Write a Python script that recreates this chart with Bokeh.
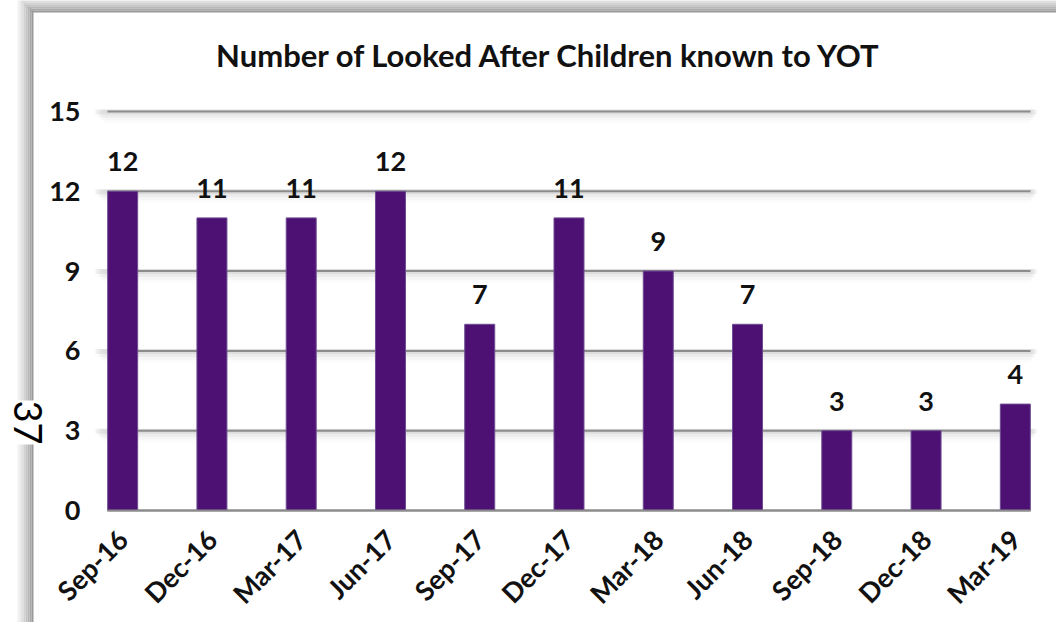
import math
from bokeh.plotting import figure
from bokeh.models import (Range1d, FixedTicker, ColumnDataSource, LabelSet, Label,
                          BoxAnnotation, LinearAxis)
from bokeh.core.properties import value
from bokeh.embed import file_html
from bokeh.resources import INLINE

# ---- data ----
categories = ["Sep-16", "Dec-16", "Mar-17", "Jun-17", "Sep-17", "Dec-17",
              "Mar-18", "Jun-18", "Sep-18", "Dec-18", "Mar-19"]
values = [12, 11, 11, 12, 7, 11, 9, 7, 3, 3, 4]
y_ticks = [0, 3, 6, 9, 12, 15]
title_text = "Number of Looked After Children known to YOT"
page_number = "37"

FONT = "Lato"
BAR_COLOR = "#4C1173"
GRID_COLOR = "#8c8c8c"
TEXT_COLOR = "#111111"

W, H = 1056, 622
# plot-area edges in canvas pixels
PL, PR, PT, PB = 107, 1030, 111, 510
X0, X1 = -0.17, 10.17
Y0, Y1 = 0, 15


def dx(px):
    return X0 + (px - PL) * (X1 - X0) / (PR - PL)


def dy(py):
    return Y0 + (PB - py) * (Y1 - Y0) / (PB - PT)


p = figure(width=W, height=H, output_backend="svg", toolbar_location=None,
           x_range=Range1d(dx(0), dx(W)), y_range=Range1d(dy(H), dy(0)),
           x_axis_location=None, y_axis_location=None,
           min_border=0, min_border_left=0, min_border_right=0,
           min_border_top=0, min_border_bottom=0)
p.outline_line_color = None
p.background_fill_color = "white"
p.border_fill_color = "white"
p.xgrid.visible = False
p.ygrid.visible = False

# chart frame border + shadow (decoration)
shades = ["#f2f2f2", "#e8e8e8", "#dddddd", "#d1d1d1", "#c4c4c4", "#b7b7b7",
          "#a9a9a9", "#9a9a9a"]
for i, c in enumerate(shades):
    p.add_layout(BoxAnnotation(left=dx(17 + 2 * i), right=dx(19 + 2 * i),
                               top=dy(-4 + 2 * i), bottom=dy(H + 20),
                               fill_color=c, fill_alpha=1, line_color=None,
                               level="underlay"))
    p.add_layout(BoxAnnotation(left=dx(17 + 2 * i), right=dx(W + 20),
                               top=dy(-4 + 2 * i), bottom=dy(-2 + 2 * i),
                               fill_color=c, fill_alpha=1, line_color=None,
                               level="underlay"))

# gridline soft shadows
for t in y_ticks[1:]:
    py = PB - (PB - PT) * t / 15
    for k, a in enumerate([0.06, 0.04, 0.025, 0.012]):
        p.add_layout(BoxAnnotation(left=dx(PL - 12 + 3 * k), right=dx(PR + 6 - 2 * k),
                                   top=dy(py - 2), bottom=dy(py + 3 + 3 * k),
                                   fill_color="black", fill_alpha=a, line_color=None,
                                   level="underlay"))

# gridlines (at the y tick values, across the plot area)
p.segment(x0=[X0] * len(y_ticks), x1=[X1] * len(y_ticks), y0=y_ticks, y1=y_ticks,
          line_color=GRID_COLOR, line_width=2)

idx = list(range(len(categories)))
src = ColumnDataSource(dict(x=idx, top=values, label=[str(v) for v in values]))
p.vbar(x="x", top="top", width=0.336, bottom=0, source=src,
       fill_color=BAR_COLOR, line_color="#6d4b92", line_width=1)

p.add_layout(LabelSet(x="x", y="top", text="label", source=src, y_offset=20,
                      text_align="center", text_baseline="alphabetic",
                      text_font=value(FONT), text_font_style="bold",
                      text_font_size="27px", text_color=TEXT_COLOR))

# axes (fixed inside the canvas)
xaxis = LinearAxis(fixed_location=0, bounds=(X0, X1))
xaxis.ticker = FixedTicker(ticks=idx)
xaxis.major_label_overrides = {i: c for i, c in enumerate(categories)}
xaxis.major_label_orientation = math.pi / 4
xaxis.major_label_text_font = FONT
xaxis.major_label_text_font_style = "bold"
xaxis.major_label_text_font_size = "27px"
xaxis.major_label_text_color = TEXT_COLOR
xaxis.major_label_standoff = 24
xaxis.major_tick_out = 0
xaxis.major_tick_in = 0
xaxis.minor_tick_line_color = None
xaxis.major_tick_line_color = None
xaxis.axis_line_color = GRID_COLOR
xaxis.axis_line_width = 2
p.add_layout(xaxis, "below")

yaxis = LinearAxis(fixed_location=X0, bounds=(Y0, Y1))
yaxis.ticker = FixedTicker(ticks=y_ticks)
yaxis.major_label_text_font = FONT
yaxis.major_label_text_font_style = "bold"
yaxis.major_label_text_font_size = "27px"
yaxis.major_label_text_color = TEXT_COLOR
yaxis.major_label_standoff = 27
yaxis.major_tick_out = 0
yaxis.major_tick_in = 0
yaxis.major_tick_line_color = None
yaxis.minor_tick_line_color = None
yaxis.axis_line_color = None
p.add_layout(yaxis, "left")

# title
p.add_layout(Label(x=dx(549), y=dy(54), text=title_text, text_align="center",
                   text_baseline="alphabetic", text_font=FONT,
                   text_font_style="bold", text_font_size="31px",
                   text_color=TEXT_COLOR))

# page number
p.add_layout(Label(x=dx(27), y=dy(422), text=page_number, angle=-math.pi / 2,
                   text_align="center", text_baseline="middle", text_font=FONT,
                   text_font_size="38px", text_color="black",
                   background_fill_color="white", background_fill_alpha=1))

open("out.html", "w").write(file_html(p, INLINE))
